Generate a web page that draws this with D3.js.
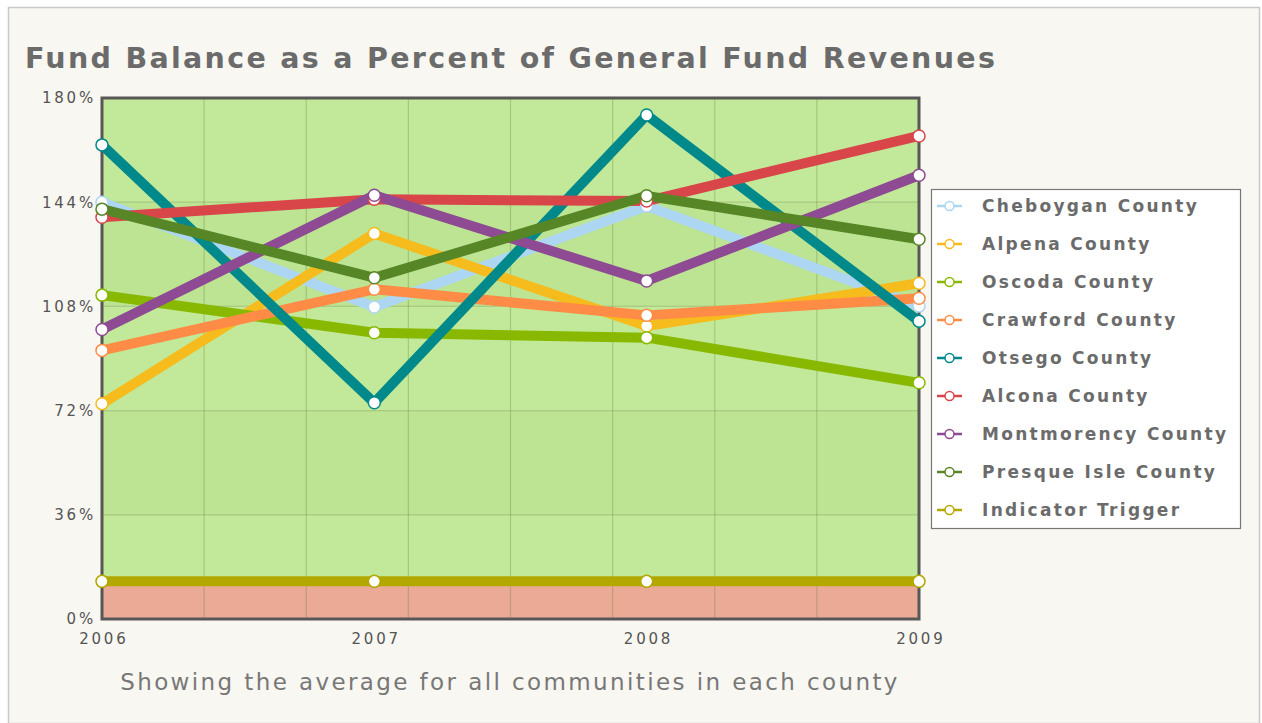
<!DOCTYPE html>
<html>
<head>
<meta charset="utf-8">
<script src="https://cdn.jsdelivr.net/npm/d3@7"></script>
<style>
  body { margin: 0; background: #fff; }
  svg { display: block; }
</style>
</head>
<body>
<svg id="chart" width="1262" height="723"></svg>
<script>
// data
const years = [2006, 2007, 2008, 2009];
const yTicks = [0, 36, 72, 108, 144, 180];
const seriesNames = ['Cheboygan County', 'Alpena County', 'Oscoda County', 'Crawford County',
  'Otsego County', 'Alcona County', 'Montmorency County', 'Presque Isle County', 'Indicator Trigger'];
const seriesColors = ['#acd6f2', '#f6bb1c', '#88b900', '#ff8c46', '#00898b', '#d9464a', '#8e4a92', '#578627', '#b2a800'];
const cheboygan = [144, 107.8, 142.7, 108.1];
const alpena = [74.4, 133.2, 101.2, 116];
const oscoda = [111.9, 98.9, 97.2, 81.6];
const crawford = [92.8, 113.9, 104.9, 110.8];
const otsego = [163.8, 74.7, 174.1, 102.9];
const alcona = [138.8, 145, 144.4, 166.9];
const montmorency = [100, 146.4, 116.8, 153.3];
const presqueIsle = [141.6, 117.9, 146.2, 131.2];
const trigger = [13, 13, 13, 13];
const seriesValues = [cheboygan, alpena, oscoda, crawford, otsego, alcona, montmorency, presqueIsle, trigger];

const svg = d3.select('#chart');
const plot = { left: 102, right: 919, top: 98, bottom: 619 };
const font = 'DejaVu Sans, Verdana, sans-serif';

const x = d3.scaleLinear().domain([2006, 2009]).range([plot.left, plot.right]);
const y = d3.scaleLinear().domain([0, 180]).range([plot.bottom, plot.top]);

// page background and frame
svg.append('rect').attr('x', 0).attr('y', 0).attr('width', 1262).attr('height', 723).attr('fill', '#ffffff');
svg.append('rect').attr('x', 8.5).attr('y', 7.5).attr('width', 1251).attr('height', 716)
  .attr('fill', '#f8f7f1').attr('stroke', '#c9c9c9').attr('stroke-width', 1.5);

// title
svg.append('text')
  .attr('x', 25).attr('y', 68)
  .attr('font-family', font)
  .attr('font-weight', 'bold')
  .attr('font-size', 28.5)
  .attr('letter-spacing', 2.3)
  .attr('fill', '#6b6b6b')
  .text('Fund Balance as a Percent of General Fund Revenues');

// alternating green bands
const g = svg.append('g');
d3.pairs(yTicks).forEach(([a, b], i) => {
  g.append('rect')
    .attr('x', plot.left).attr('y', y(b))
    .attr('width', plot.right - plot.left).attr('height', y(a) - y(b))
    .attr('fill', i % 2 ? '#bde493' : '#c2e999');
});
// red zone under the trigger
g.append('rect')
  .attr('x', plot.left).attr('y', y(trigger[0]))
  .attr('width', plot.right - plot.left).attr('height', plot.bottom - y(trigger[0]))
  .attr('fill', '#eaaa96');

// grid
const xGrid = d3.range(9).map(i => 2006 + i * 3 / 8);
g.selectAll('line.vgrid')
  .data(xGrid)
  .enter().append('line')
  .attr('x1', d => x(d)).attr('x2', d => x(d))
  .attr('y1', plot.top).attr('y2', plot.bottom)
  .attr('stroke', 'rgba(90,120,40,0.28)').attr('stroke-width', 1.2);
g.selectAll('line.hgrid')
  .data(yTicks)
  .enter().append('line')
  .attr('x1', plot.left).attr('x2', plot.right)
  .attr('y1', d => y(d)).attr('y2', d => y(d))
  .attr('stroke', 'rgba(90,120,40,0.28)').attr('stroke-width', 1.2);

// plot frame
svg.append('rect')
  .attr('x', plot.left).attr('y', plot.top)
  .attr('width', plot.right - plot.left).attr('height', plot.bottom - plot.top)
  .attr('fill', 'none').attr('stroke', '#575757').attr('stroke-width', 3);

// axes
const yAxis = svg.append('g')
  .attr('transform', `translate(${plot.left},0)`)
  .call(d3.axisLeft(y).tickValues(yTicks).tickSize(0).tickPadding(6).tickFormat(d => d + '%'));
const xAxis = svg.append('g')
  .attr('transform', `translate(0,${plot.bottom})`)
  .call(d3.axisBottom(x).tickValues(years).tickSize(0).tickPadding(14).tickFormat(d3.format('d')));
[yAxis, xAxis].forEach(a => {
  a.select('.domain').remove();
  a.selectAll('text')
    .attr('font-family', font)
    .attr('font-size', 15)
    .attr('letter-spacing', 2.8)
    .attr('fill', '#555');
});
xAxis.selectAll('text').attr('dx', '0.09em');

// lines
const line = d3.line().x((d, i) => x(years[i])).y(d => y(d));
const series = seriesNames.map((name, i) => ({ name, color: seriesColors[i], values: seriesValues[i] }));
const drawOrder = [8, 0, 1, 2, 3, 4, 5, 6, 7];

svg.append('g').selectAll('path')
  .data(drawOrder.map(i => series[i]))
  .enter().append('path')
  .attr('d', d => line(d.values))
  .attr('fill', 'none')
  .attr('stroke', d => d.color)
  .attr('stroke-width', 10)
  .attr('stroke-linejoin', 'round');

// markers
drawOrder.forEach(i => {
  const s = series[i];
  svg.append('g').selectAll('circle')
    .data(s.values)
    .enter().append('circle')
    .attr('cx', (d, j) => x(years[j]))
    .attr('cy', d => y(d))
    .attr('r', 6)
    .attr('fill', '#fff')
    .attr('stroke', s.color)
    .attr('stroke-width', 1.5);
});

// legend
const legend = svg.append('g');
legend.append('rect')
  .attr('x', 931.5).attr('y', 189.5).attr('width', 309).attr('height', 339)
  .attr('fill', '#fff').attr('stroke', '#777').attr('stroke-width', 1.2);
const item = legend.selectAll('g.item')
  .data(series)
  .enter().append('g')
  .attr('transform', (d, i) => `translate(0,${206 + i * 38})`);
item.append('line')
  .attr('x1', 937).attr('x2', 962).attr('y1', 0).attr('y2', 0)
  .attr('stroke', d => d.color).attr('stroke-width', 2.5);
item.append('circle')
  .attr('cx', 949.5).attr('cy', 0).attr('r', 4.5)
  .attr('fill', '#fff').attr('stroke', d => d.color).attr('stroke-width', 1.5);
item.append('text')
  .attr('x', 982).attr('y', 0).attr('dy', '0.36em')
  .attr('font-family', font)
  .attr('font-weight', 'bold')
  .attr('font-size', 17)
  .attr('letter-spacing', 2.3)
  .attr('fill', '#6b6b6b')
  .text(d => d.name);

// subtitle
svg.append('text')
  .attr('x', 510).attr('y', 690)
  .attr('text-anchor', 'middle')
  .attr('font-family', font)
  .attr('font-size', 23)
  .attr('letter-spacing', 2.4)
  .attr('fill', '#777')
  .text('Showing the average for all communities in each county');
</script>
</body>
</html>
